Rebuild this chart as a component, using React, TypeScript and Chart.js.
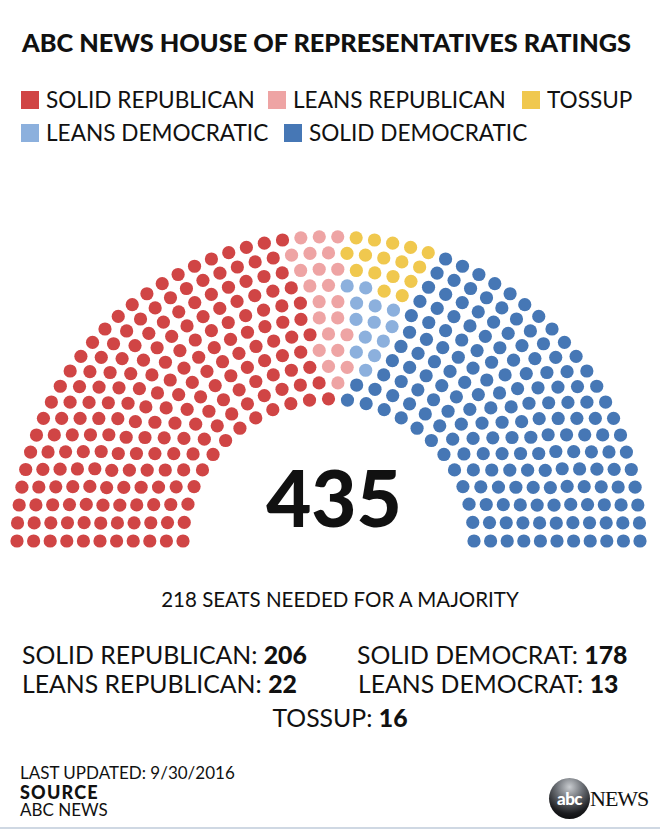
import React, { useEffect, useRef } from "react";
import { Chart, registerables } from "chart.js";

Chart.register(...registerables);

// ---------- data ----------
const PARTY_KEYS = ["solidR", "leanR", "tossup", "leanD", "solidD"];
const LEGEND_LABELS = ["SOLID REPUBLICAN", "LEANS REPUBLICAN", "TOSSUP", "LEANS DEMOCRATIC", "SOLID DEMOCRATIC"];
const SUMMARY_LABELS = ["SOLID REPUBLICAN", "LEANS REPUBLICAN", "TOSSUP", "LEANS DEMOCRAT", "SOLID DEMOCRAT"];
const SEAT_TOTALS = [206, 22, 16, 13, 178];
const MAJORITY = 218;

// seats per row, inner row first
const ROW_SIZES = [25, 28, 31, 34, 37, 40, 42, 45, 48, 51, 54];
const SOLID_R_BY_ROW = [13, 14, 15, 16, 18, 19, 20, 21, 22, 23, 25];
const LEAN_R_BY_ROW = [0, 1, 2, 2, 2, 2, 2, 2, 3, 3, 3];
const TOSSUP_BY_ROW = [0, 0, 0, 0, 0, 0, 0, 2, 4, 5, 5];
const LEAN_D_BY_ROW = [0, 0, 1, 2, 2, 3, 3, 2, 0, 0, 0];
const SOLID_D_BY_ROW = [12, 13, 13, 14, 15, 16, 17, 18, 19, 20, 21];
// order in which seats are filled along each row, left to right
const FILL_ORDER = ["solidR", "leanR", "leanD", "tossup", "solidD"];

// ---------- styles ----------
const COLORS: Record<string, string> = {
  solidR: "#d04545",
  leanR: "#eea4a4",
  tossup: "#f0c84e",
  leanD: "#8cb0dd",
  solidD: "#4677b5",
};
const FONT = "Lato, 'Open Sans', sans-serif";

// hemicycle geometry (page pixels)
const CX = 328.5;
const CY = 541;
const R_INNER = 145.5;
const ROW_GAP = 16.6;
const Y_SQUASH = 0.977;
const DOT_R = 6.6;
const CANVAS_TOP = 220;
const CANVAS_H = 340;

function buildDatasets() {
  const rowsByParty: Record<string, number[]> = {
    solidR: SOLID_R_BY_ROW,
    leanR: LEAN_R_BY_ROW,
    tossup: TOSSUP_BY_ROW,
    leanD: LEAN_D_BY_ROW,
    solidD: SOLID_D_BY_ROW,
  };
  const pts: Record<string, { x: number; y: number }[]> = {};
  PARTY_KEYS.forEach((k) => (pts[k] = []));
  ROW_SIZES.forEach((n, i) => {
    const r = R_INNER + i * ROW_GAP;
    let k = 0;
    FILL_ORDER.forEach((p) => {
      const c = rowsByParty[p][i];
      for (let j = 0; j < c; j++) {
        const a = Math.PI - (k * Math.PI) / (n - 1);
        pts[p].push({ x: CX + r * Math.cos(a), y: CY - r * Y_SQUASH * Math.sin(a) });
        k++;
      }
    });
  });
  return PARTY_KEYS.map((p, idx) => ({
    label: LEGEND_LABELS[idx],
    data: pts[p],
    pointRadius: DOT_R,
    pointHoverRadius: DOT_R,
    pointBackgroundColor: COLORS[p],
    pointBorderWidth: 0,
    borderWidth: 0,
    showLine: false,
  }));
}

function Hemicycle() {
  const ref = useRef<HTMLCanvasElement | null>(null);
  useEffect(() => {
    if (!ref.current) return;
    const chart = new Chart(ref.current, {
      type: "scatter",
      data: { datasets: buildDatasets() as any },
      options: {
        responsive: false,
        animation: false,
        events: [],
        layout: { padding: 0, autoPadding: false },
        plugins: { legend: { display: false }, tooltip: { enabled: false }, title: { display: false } },
        scales: {
          x: { type: "linear", min: 0, max: 660, display: false },
          y: { type: "linear", min: CANVAS_TOP, max: CANVAS_TOP + CANVAS_H, reverse: true, display: false },
        },
      },
    });
    return () => chart.destroy();
  }, []);
  return (
    <canvas
      ref={ref}
      width={660}
      height={CANVAS_H}
      style={{ position: "absolute", left: 0, top: CANVAS_TOP, width: 660, height: CANVAS_H }}
    />
  );
}

function Txt(props: { x: number; cy: number; size: number; children: any; weight?: number; center?: boolean; family?: string; ls?: number }) {
  const { x, cy, size, weight = 400, center, family = FONT, ls = 0 } = props;
  return (
    <div
      style={{
        position: "absolute",
        left: center ? x - 400 : x,
        width: center ? 800 : undefined,
        textAlign: center ? "center" : "left",
        top: cy - 0.525 * size,
        fontSize: size,
        lineHeight: `${size}px`,
        fontFamily: family,
        fontWeight: weight,
        letterSpacing: ls,
        whiteSpace: "nowrap",
        color: "#111",
      }}
    >
      {props.children}
    </div>
  );
}

function LegendItem({ x, cy, idx }: { x: number; cy: number; idx: number }) {
  return (
    <>
      <div
        style={{
          position: "absolute",
          left: x,
          top: cy - 9,
          width: 18,
          height: 18,
          background: COLORS[PARTY_KEYS[idx]],
        }}
      />
      <Txt x={x + 25} cy={cy + 1} size={22.6}>
        {LEGEND_LABELS[idx]}
      </Txt>
    </>
  );
}

function Summary({ x, cy, idx, center }: { x: number; cy: number; idx: number; center?: boolean }) {
  return (
    <Txt x={x} cy={cy} size={24.8} center={center}>
      {SUMMARY_LABELS[idx]}: <span style={{ fontWeight: 900 }}>{SEAT_TOTALS[idx]}</span>
    </Txt>
  );
}

export default function App() {
  const total = SEAT_TOTALS.reduce((a, b) => a + b, 0);
  return (
    <div
      style={{
        position: "absolute",
        left: 0,
        top: 0,
        width: 660,
        height: 831,
        background: "#fff",
        overflow: "hidden",
      }}
    >
      <Txt x={22} cy={43} size={25.3} weight={900}>
        ABC NEWS HOUSE OF REPRESENTATIVES RATINGS
      </Txt>

      <LegendItem x={21} cy={100} idx={0} />
      <LegendItem x={268} cy={100} idx={1} />
      <LegendItem x={522} cy={100} idx={2} />
      <LegendItem x={21} cy={133} idx={3} />
      <LegendItem x={284} cy={133} idx={4} />

      <Hemicycle />

      <Txt x={334} cy={499} size={78} weight={900} center>
        {total}
      </Txt>

      <Txt x={340} cy={600} size={20.5} center>
        {MAJORITY} SEATS NEEDED FOR A MAJORITY
      </Txt>

      <Summary x={22} cy={656} idx={0} />
      <Summary x={357} cy={656} idx={4} />
      <Summary x={22} cy={685} idx={1} />
      <Summary x={358} cy={685} idx={3} />
      <Summary x={340} cy={719} idx={2} center />

      <Txt x={20} cy={773} size={17}>
        LAST UPDATED: 9/30/2016
      </Txt>
      <Txt x={20} cy={792} size={18} weight={900} ls={1.2}>
        SOURCE
      </Txt>
      <Txt x={20} cy={810} size={17}>
        ABC NEWS
      </Txt>

      {/* logo */}
      <div
        style={{
          position: "absolute",
          left: 549,
          top: 778,
          width: 41,
          height: 41,
          borderRadius: "50%",
          background: "radial-gradient(circle at 50% 22%, #c9ccd0 0%, #6b6f75 35%, #1b1c1f 70%, #000 100%)",
          color: "#fff",
          fontFamily: FONT,
          fontWeight: 900,
          fontSize: 17,
          lineHeight: "41px",
          textAlign: "center",
          letterSpacing: -0.5,
        }}
      >
        abc
      </div>
      <Txt x={590} cy={800} size={22} family="'Liberation Serif', 'DejaVu Serif', serif" ls={-1}>
        NEWS
      </Txt>

      <div style={{ position: "absolute", left: 0, top: 827, width: 660, height: 2, background: "#cfd8e3" }} />
    </div>
  );
}
